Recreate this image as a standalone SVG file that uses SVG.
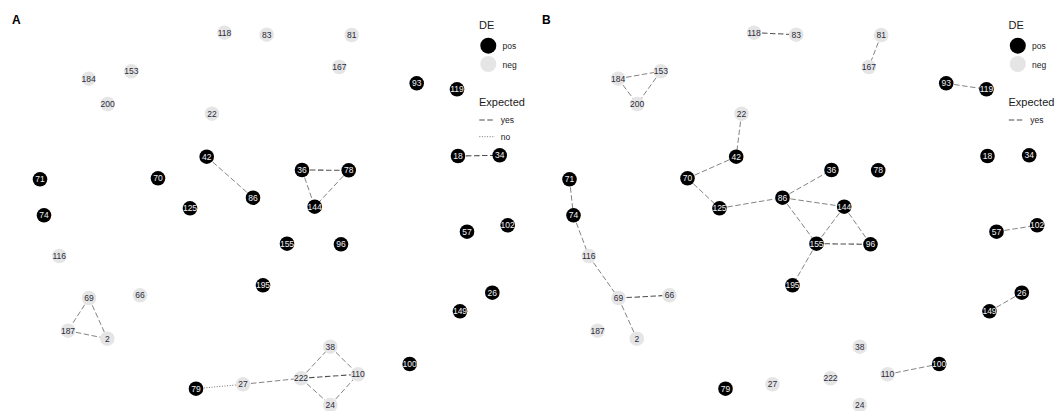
<svg xmlns="http://www.w3.org/2000/svg" width="1056" height="411" viewBox="0 0 1056 411">
<style>
.bg{fill:#fff}
.pos circle{fill:#000}
.neg circle{fill:#e5e5e5}
.pos text{fill:#f0f0f5}
.neg text{fill:#2a2a3a}
.node text{font-family:"Liberation Sans",Arial,sans-serif;font-size:8.5px;text-anchor:middle}
.e{stroke:#4d4d4d;stroke-width:0.7;stroke-dasharray:5.5 2.5;fill:none}
.e.t{stroke-width:1.05}
.e.d{stroke-dasharray:1 1.6;stroke-width:0.8}
.lgt{font-family:"Liberation Sans",Arial,sans-serif;font-size:11px;fill:#1a1a1a}
.lgs{font-family:"Liberation Sans",Arial,sans-serif;font-size:8.5px;fill:#1a1a1a}
.pl{font-family:"Liberation Sans",Arial,sans-serif;font-size:12px;font-weight:bold;fill:#000}
</style>
<rect class="bg" x="0" y="0" width="1056" height="411"/>
<text class="pl" x="12" y="24">A</text>
<text class="pl" x="542" y="24">B</text>

<g id="edges">
<line class="e" x1="206.7" y1="156.7" x2="253" y2="197.7"/>
<line class="e t" x1="302" y1="170" x2="348.7" y2="170.3"/>
<line class="e" x1="302" y1="170" x2="314.7" y2="206.7"/>
<line class="e" x1="348.7" y1="170.3" x2="314.7" y2="206.7"/>
<line class="e t" x1="458" y1="156" x2="499.7" y2="155.3"/>
<line class="e" x1="89" y1="298" x2="68" y2="330.7"/>
<line class="e" x1="89" y1="298" x2="107.3" y2="338.7"/>
<line class="e" x1="68" y1="330.7" x2="107.3" y2="338.7"/>
<line class="e d" x1="196" y1="388.7" x2="243" y2="384.3"/>
<line class="e" x1="243" y1="384.3" x2="301" y2="378.3"/>
<line class="e t" x1="301" y1="378.3" x2="358" y2="374.3"/>
<line class="e" x1="301" y1="378.3" x2="330.3" y2="346.7"/>
<line class="e" x1="301" y1="378.3" x2="330.3" y2="405"/>
<line class="e" x1="330.3" y1="346.7" x2="358" y2="374.3"/>
<line class="e" x1="330.3" y1="405" x2="358" y2="374.3"/>

<line class="e t" x1="754" y1="32.7" x2="796.2" y2="34.7"/>
<line class="e" x1="618.2" y1="78.7" x2="660.8" y2="71.3"/>
<line class="e" x1="618.2" y1="78.7" x2="637.2" y2="104"/>
<line class="e" x1="660.8" y1="71.3" x2="637.2" y2="104"/>
<line class="e" x1="881.2" y1="35" x2="868.8" y2="67"/>
<line class="e" x1="946.2" y1="83.3" x2="986.5" y2="89.3"/>
<line class="e" x1="741.5" y1="113.7" x2="736.2" y2="156.7"/>
<line class="e" x1="736.2" y1="156.7" x2="687.5" y2="178.3"/>
<line class="e" x1="687.5" y1="178.3" x2="719.5" y2="208.3"/>
<line class="e" x1="719.5" y1="208.3" x2="782.5" y2="197.7"/>
<line class="e" x1="782.5" y1="197.7" x2="831.5" y2="170"/>
<line class="e" x1="782.5" y1="197.7" x2="844.2" y2="206.7"/>
<line class="e" x1="782.5" y1="197.7" x2="816.5" y2="243.7"/>
<line class="e" x1="844.2" y1="206.7" x2="816.5" y2="243.7"/>
<line class="e" x1="844.2" y1="206.7" x2="870.5" y2="244.3"/>
<line class="e t" x1="816.5" y1="243.7" x2="870.5" y2="244.3"/>
<line class="e" x1="816.5" y1="243.7" x2="792.5" y2="285.3"/>
<line class="e" x1="569.5" y1="179.3" x2="573.5" y2="215.3"/>
<line class="e" x1="573.5" y1="215.3" x2="588.8" y2="256"/>
<line class="e" x1="588.8" y1="256" x2="618.5" y2="298"/>
<line class="e t" x1="618.5" y1="298" x2="669.5" y2="295.3"/>
<line class="e" x1="618.5" y1="298" x2="636.8" y2="338.7"/>
<line class="e" x1="996.5" y1="231.7" x2="1037.2" y2="225.3"/>
<line class="e" x1="989.5" y1="311.3" x2="1021.8" y2="292.7"/>
<line class="e" x1="887.5" y1="374.3" x2="939.2" y2="364"/>
</g>

<g id="A-118" class="node neg"><circle cx="224.5" cy="32.7" r="7.3"/><text x="224.5" y="35.7">118</text></g>
<g id="A-83" class="node neg"><circle cx="266.7" cy="34.7" r="7.3"/><text x="266.7" y="37.7">83</text></g>
<g id="A-81" class="node neg"><circle cx="351.7" cy="35" r="7.3"/><text x="351.7" y="38">81</text></g>
<g id="A-167" class="node neg"><circle cx="339.3" cy="67" r="7.3"/><text x="339.3" y="70">167</text></g>
<g id="A-184" class="node neg"><circle cx="88.7" cy="78.7" r="7.3"/><text x="88.7" y="81.7">184</text></g>
<g id="A-153" class="node neg"><circle cx="131.3" cy="71.3" r="7.3"/><text x="131.3" y="74.3">153</text></g>
<g id="A-200" class="node neg"><circle cx="107.7" cy="104" r="7.3"/><text x="107.7" y="107">200</text></g>
<g id="A-22" class="node neg"><circle cx="212" cy="113.7" r="7.3"/><text x="212" y="116.7">22</text></g>
<g id="A-42" class="node pos"><circle cx="206.7" cy="156.7" r="7.3"/><text x="206.7" y="159.7">42</text></g>
<g id="A-71" class="node pos"><circle cx="40" cy="179.3" r="7.3"/><text x="40" y="182.3">71</text></g>
<g id="A-70" class="node pos"><circle cx="158" cy="178.3" r="7.3"/><text x="158" y="181.3">70</text></g>
<g id="A-86" class="node pos"><circle cx="253" cy="197.7" r="7.3"/><text x="253" y="200.7">86</text></g>
<g id="A-125" class="node pos"><circle cx="190" cy="208.3" r="7.3"/><text x="190" y="211.3">125</text></g>
<g id="A-74" class="node pos"><circle cx="44" cy="215.3" r="7.3"/><text x="44" y="218.3">74</text></g>
<g id="A-116" class="node neg"><circle cx="59.3" cy="256" r="7.3"/><text x="59.3" y="259">116</text></g>
<g id="A-69" class="node neg"><circle cx="89" cy="298" r="7.3"/><text x="89" y="301">69</text></g>
<g id="A-66" class="node neg"><circle cx="140" cy="295.3" r="7.3"/><text x="140" y="298.3">66</text></g>
<g id="A-187" class="node neg"><circle cx="68" cy="330.7" r="7.3"/><text x="68" y="333.7">187</text></g>
<g id="A-2" class="node neg"><circle cx="107.3" cy="338.7" r="7.3"/><text x="107.3" y="341.7">2</text></g>
<g id="A-195" class="node pos"><circle cx="263" cy="285.3" r="7.3"/><text x="263" y="288.3">195</text></g>
<g id="A-79" class="node pos"><circle cx="196" cy="388.7" r="7.3"/><text x="196" y="391.7">79</text></g>
<g id="A-27" class="node neg"><circle cx="243" cy="384.3" r="7.3"/><text x="243" y="387.3">27</text></g>
<g id="A-93" class="node pos"><circle cx="416.7" cy="83.3" r="7.3"/><text x="416.7" y="86.3">93</text></g>
<g id="A-119" class="node pos"><circle cx="457" cy="89.3" r="7.3"/><text x="457" y="92.3">119</text></g>
<g id="A-18" class="node pos"><circle cx="458" cy="156" r="7.3"/><text x="458" y="159">18</text></g>
<g id="A-34" class="node pos"><circle cx="499.7" cy="155.3" r="7.3"/><text x="499.7" y="158.3">34</text></g>
<g id="A-36" class="node pos"><circle cx="302" cy="170" r="7.3"/><text x="302" y="173">36</text></g>
<g id="A-78" class="node pos"><circle cx="348.7" cy="170.3" r="7.3"/><text x="348.7" y="173.3">78</text></g>
<g id="A-144" class="node pos"><circle cx="314.7" cy="206.7" r="7.3"/><text x="314.7" y="209.7">144</text></g>
<g id="A-155" class="node pos"><circle cx="287" cy="243.7" r="7.3"/><text x="287" y="246.7">155</text></g>
<g id="A-96" class="node pos"><circle cx="341" cy="244.3" r="7.3"/><text x="341" y="247.3">96</text></g>
<g id="A-57" class="node pos"><circle cx="467" cy="231.7" r="7.3"/><text x="467" y="234.7">57</text></g>
<g id="A-102" class="node pos"><circle cx="507.7" cy="225.3" r="7.3"/><text x="507.7" y="228.3">102</text></g>
<g id="A-26" class="node pos"><circle cx="492.3" cy="292.7" r="7.3"/><text x="492.3" y="295.7">26</text></g>
<g id="A-149" class="node pos"><circle cx="460" cy="311.3" r="7.3"/><text x="460" y="314.3">149</text></g>
<g id="A-38" class="node neg"><circle cx="330.3" cy="346.7" r="7.3"/><text x="330.3" y="349.7">38</text></g>
<g id="A-222" class="node neg"><circle cx="301" cy="378.3" r="7.3"/><text x="301" y="381.3">222</text></g>
<g id="A-110" class="node neg"><circle cx="358" cy="374.3" r="7.3"/><text x="358" y="377.3">110</text></g>
<g id="A-24" class="node neg"><circle cx="330.3" cy="405" r="7.3"/><text x="330.3" y="408">24</text></g>
<g id="A-100" class="node pos"><circle cx="409.7" cy="364" r="7.3"/><text x="409.7" y="367">100</text></g>

<g id="B-118" class="node neg"><circle cx="754" cy="32.7" r="7.3"/><text x="754" y="35.7">118</text></g>
<g id="B-83" class="node neg"><circle cx="796.2" cy="34.7" r="7.3"/><text x="796.2" y="37.7">83</text></g>
<g id="B-81" class="node neg"><circle cx="881.2" cy="35" r="7.3"/><text x="881.2" y="38">81</text></g>
<g id="B-167" class="node neg"><circle cx="868.8" cy="67" r="7.3"/><text x="868.8" y="70">167</text></g>
<g id="B-184" class="node neg"><circle cx="618.2" cy="78.7" r="7.3"/><text x="618.2" y="81.7">184</text></g>
<g id="B-153" class="node neg"><circle cx="660.8" cy="71.3" r="7.3"/><text x="660.8" y="74.3">153</text></g>
<g id="B-200" class="node neg"><circle cx="637.2" cy="104" r="7.3"/><text x="637.2" y="107">200</text></g>
<g id="B-22" class="node neg"><circle cx="741.5" cy="113.7" r="7.3"/><text x="741.5" y="116.7">22</text></g>
<g id="B-42" class="node pos"><circle cx="736.2" cy="156.7" r="7.3"/><text x="736.2" y="159.7">42</text></g>
<g id="B-71" class="node pos"><circle cx="569.5" cy="179.3" r="7.3"/><text x="569.5" y="182.3">71</text></g>
<g id="B-70" class="node pos"><circle cx="687.5" cy="178.3" r="7.3"/><text x="687.5" y="181.3">70</text></g>
<g id="B-86" class="node pos"><circle cx="782.5" cy="197.7" r="7.3"/><text x="782.5" y="200.7">86</text></g>
<g id="B-125" class="node pos"><circle cx="719.5" cy="208.3" r="7.3"/><text x="719.5" y="211.3">125</text></g>
<g id="B-74" class="node pos"><circle cx="573.5" cy="215.3" r="7.3"/><text x="573.5" y="218.3">74</text></g>
<g id="B-116" class="node neg"><circle cx="588.8" cy="256" r="7.3"/><text x="588.8" y="259">116</text></g>
<g id="B-69" class="node neg"><circle cx="618.5" cy="298" r="7.3"/><text x="618.5" y="301">69</text></g>
<g id="B-66" class="node neg"><circle cx="669.5" cy="295.3" r="7.3"/><text x="669.5" y="298.3">66</text></g>
<g id="B-187" class="node neg"><circle cx="597.5" cy="330.7" r="7.3"/><text x="597.5" y="333.7">187</text></g>
<g id="B-2" class="node neg"><circle cx="636.8" cy="338.7" r="7.3"/><text x="636.8" y="341.7">2</text></g>
<g id="B-195" class="node pos"><circle cx="792.5" cy="285.3" r="7.3"/><text x="792.5" y="288.3">195</text></g>
<g id="B-79" class="node pos"><circle cx="725.5" cy="388.7" r="7.3"/><text x="725.5" y="391.7">79</text></g>
<g id="B-27" class="node neg"><circle cx="772.5" cy="384.3" r="7.3"/><text x="772.5" y="387.3">27</text></g>
<g id="B-93" class="node pos"><circle cx="946.2" cy="83.3" r="7.3"/><text x="946.2" y="86.3">93</text></g>
<g id="B-119" class="node pos"><circle cx="986.5" cy="89.3" r="7.3"/><text x="986.5" y="92.3">119</text></g>
<g id="B-18" class="node pos"><circle cx="987.5" cy="156" r="7.3"/><text x="987.5" y="159">18</text></g>
<g id="B-34" class="node pos"><circle cx="1029.2" cy="155.3" r="7.3"/><text x="1029.2" y="158.3">34</text></g>
<g id="B-36" class="node pos"><circle cx="831.5" cy="170" r="7.3"/><text x="831.5" y="173">36</text></g>
<g id="B-78" class="node pos"><circle cx="878.2" cy="170.3" r="7.3"/><text x="878.2" y="173.3">78</text></g>
<g id="B-144" class="node pos"><circle cx="844.2" cy="206.7" r="7.3"/><text x="844.2" y="209.7">144</text></g>
<g id="B-155" class="node pos"><circle cx="816.5" cy="243.7" r="7.3"/><text x="816.5" y="246.7">155</text></g>
<g id="B-96" class="node pos"><circle cx="870.5" cy="244.3" r="7.3"/><text x="870.5" y="247.3">96</text></g>
<g id="B-57" class="node pos"><circle cx="996.5" cy="231.7" r="7.3"/><text x="996.5" y="234.7">57</text></g>
<g id="B-102" class="node pos"><circle cx="1037.2" cy="225.3" r="7.3"/><text x="1037.2" y="228.3">102</text></g>
<g id="B-26" class="node pos"><circle cx="1021.8" cy="292.7" r="7.3"/><text x="1021.8" y="295.7">26</text></g>
<g id="B-149" class="node pos"><circle cx="989.5" cy="311.3" r="7.3"/><text x="989.5" y="314.3">149</text></g>
<g id="B-38" class="node neg"><circle cx="859.8" cy="346.7" r="7.3"/><text x="859.8" y="349.7">38</text></g>
<g id="B-222" class="node neg"><circle cx="830.5" cy="378.3" r="7.3"/><text x="830.5" y="381.3">222</text></g>
<g id="B-110" class="node neg"><circle cx="887.5" cy="374.3" r="7.3"/><text x="887.5" y="377.3">110</text></g>
<g id="B-24" class="node neg"><circle cx="859.8" cy="405" r="7.3"/><text x="859.8" y="408">24</text></g>
<g id="B-100" class="node pos"><circle cx="939.2" cy="364" r="7.3"/><text x="939.2" y="367">100</text></g>

<g id="legend-A">
<text class="lgt" x="479" y="29">DE</text>
<circle cx="488.3" cy="45.7" r="8" fill="#000"/>
<text class="lgs" x="502.5" y="48.8">pos</text>
<circle cx="488.3" cy="64" r="8" fill="#e5e5e5"/>
<text class="lgs" x="502.5" y="67.5">neg</text>
<text class="lgt" x="479" y="105.5">Expected</text>
<line class="e t" x1="479.3" y1="120" x2="495" y2="120"/>
<text class="lgs" x="500.7" y="123.3">yes</text>
<line class="e d" x1="479.3" y1="136.7" x2="495" y2="136.7"/>
<text class="lgs" x="500.7" y="139.8">no</text>
</g>
<g id="legend-B">
<text class="lgt" x="1008.5" y="29">DE</text>
<circle cx="1017.8" cy="45.7" r="8" fill="#000"/>
<text class="lgs" x="1032" y="48.8">pos</text>
<circle cx="1017.8" cy="64" r="8" fill="#e5e5e5"/>
<text class="lgs" x="1032" y="67.5">neg</text>
<text class="lgt" x="1008.5" y="105.5">Expected</text>
<line class="e t" x1="1008.8" y1="120" x2="1024.5" y2="120"/>
<text class="lgs" x="1030.2" y="123.3">yes</text>
</g>
</svg>
